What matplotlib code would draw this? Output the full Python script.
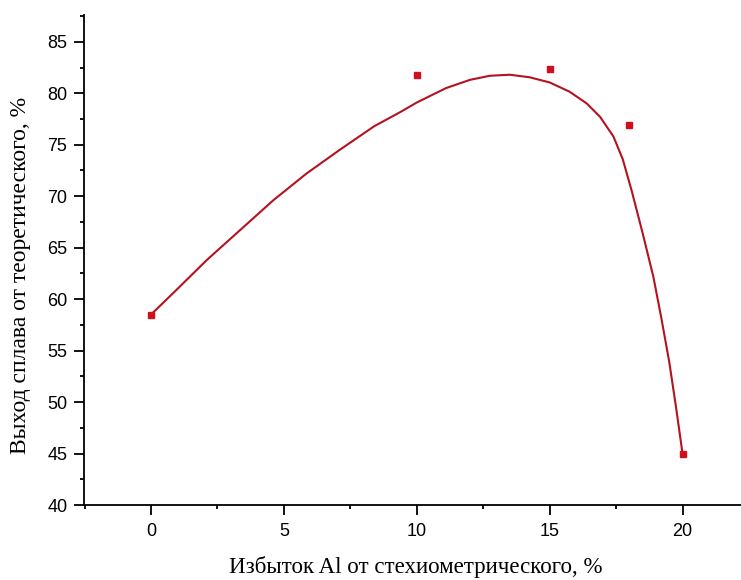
import matplotlib
matplotlib.use("Agg")
import matplotlib.pyplot as plt
from matplotlib.ticker import MultipleLocator

# экспериментальные точки
excess = [0, 10, 15, 18, 20]
yield_pct = [58.5, 81.8, 82.4, 76.9, 45.0]

curve_x = [0.0, 0.84, 2.1, 3.35, 4.6, 5.85, 7.1, 8.4, 9.4, 10.0, 11.1, 12.0,
           12.75, 13.5, 14.25, 15.0, 15.75, 16.4, 16.9, 17.4, 17.75, 18.1,
           18.5, 18.9, 19.2, 19.5, 19.75, 20.0]
curve_y = [58.5, 60.6, 63.8, 66.7, 69.6, 72.2, 74.5, 76.8, 78.2, 79.1, 80.5, 81.3,
           81.7, 81.8, 81.55, 81.05, 80.15, 79.0, 77.7, 75.8, 73.6, 70.4,
           66.4, 62.2, 58.2, 53.9, 49.6, 45.0]

plt.rcParams['font.family'] = ['Liberation Sans', 'DejaVu Sans']

fig = plt.figure(figsize=(7.41, 5.80), dpi=100)
ax = fig.add_axes([0.1134, 0.1293, 0.8866, 0.8448])

ax.plot(curve_x, curve_y, color='#b3121f', linewidth=1.5,
        solid_joinstyle='round')
ax.plot(excess, yield_pct, linestyle='none', marker='s', markersize=4.5,
        color='#d0101e')

ax.set_xlim(-2.52, 22.2)
ax.set_ylim(40, 87.6)
ax.xaxis.set_major_locator(MultipleLocator(5))
ax.xaxis.set_minor_locator(MultipleLocator(2.5))
ax.yaxis.set_major_locator(MultipleLocator(5))
ax.yaxis.set_minor_locator(MultipleLocator(2.5))

for side in ['top', 'right']:
    ax.spines[side].set_visible(False)
for side in ['left', 'bottom']:
    ax.spines[side].set_linewidth(1.3)

ax.tick_params(which='major', direction='out', length=7, width=1.3,
               labelsize=13, pad=5)
ax.tick_params(axis='x', which='major', pad=6)
ax.tick_params(which='minor', direction='out', length=3, width=1.3)

ax.set_xlabel('Избыток Al от стехиометрического, %', family='Liberation Serif',
              fontsize=16.5)
ax.set_ylabel('Выход сплава от теоретического, %', family='Liberation Serif',
              fontsize=17)
ax.xaxis.set_label_coords(0.5046, -0.104)
ax.yaxis.set_label_coords(-0.0807, 0.469)

fig.savefig('out.png', dpi=100)
